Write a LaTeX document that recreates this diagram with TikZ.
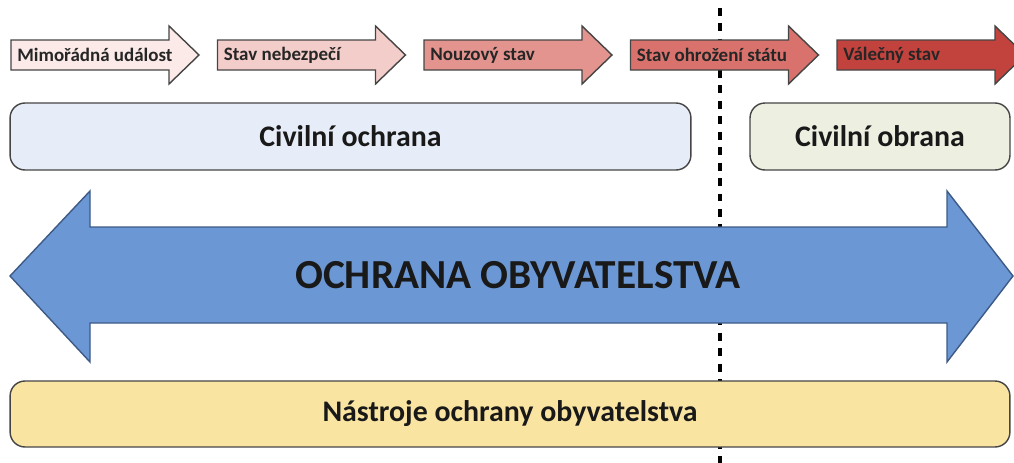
\documentclass[tikz,border=0pt]{standalone}
\usepackage{fontspec}
\setmainfont{Carlito}

\definecolor{stageA}{HTML}{FBEAE8}
\definecolor{stageB}{HTML}{F2CDC9}
\definecolor{stageC}{HTML}{E3948E}
\definecolor{stageD}{HTML}{D9726C}
\definecolor{stageE}{HTML}{C2433D}
\definecolor{outline}{HTML}{454545}
\definecolor{bigblue}{HTML}{6B98D5}
\definecolor{bigedge}{HTML}{3D5A86}
\definecolor{civblue}{HTML}{E7EDF8}
\definecolor{civgreen}{HTML}{EDEFE0}
\definecolor{toolgold}{HTML}{FAE4A2}

\tikzset{
  stagelabel/.style={anchor=west, font=\bfseries\fontsize{10.8}{12}\selectfont, text=black!85, inner sep=0pt},
  roundbox/.style={draw=outline, line width=0.8pt, rounded corners=8.5pt, font=\bfseries\fontsize{17}{20}\selectfont, text=black!90},
  divider/.style={line width=1.9pt, dash pattern=on 4.5pt off 4.3pt}
}

\begin{document}
\begin{tikzpicture}[x=0.02cm, y=-0.02cm]
  \useasboundingbox (0,0) rectangle (1014,463);
  \clip (0,0) rectangle (1014,463);

  % Dividing line (behind everything)
  \draw[divider] (720,8) -- (720,463);

  % Stage arrows along the top
  \foreach \i/\col/\txt in {0/stageA/Mimořádná událost, 1/stageB/Stav nebezpečí,
      2/stageC/Nouzový stav, 3/stageD/Stav ohrožení státu, 4/stageE/Válečný stav} {
    \pgfmathsetmacro{\xa}{11+206.5*\i}
    \draw[fill=\col, draw=outline, line width=0.8pt, line join=miter]
      (\xa,40) -- ++(158,0) -- ++(0,-14) -- ++(30,29) -- ++(-30,29) -- ++(0,-14) -- (\xa,70) -- cycle;
    \node[stagelabel] (stage\i) at (\xa+6,55) {\txt};
  }

  % Civil protection / civil defence
  \node[roundbox, fill=civblue, minimum width=13.62cm, minimum height=1.34cm] (ochrana) at (350.5,136.5) {Civilní ochrana};
  \node[roundbox, fill=civgreen, minimum width=5.2cm, minimum height=1.34cm] (obrana) at (880,136.5) {Civilní obrana};

  % Big double arrow
  \draw[fill=bigblue, draw=bigedge, line width=0.8pt, line join=miter]
    (10,276) -- (90,191) -- (90,227) -- (947,227) -- (947,191) -- (1013,276)
    -- (947,362) -- (947,323) -- (90,323) -- (90,362) -- cycle;
  \node[font=\bfseries\fontsize{23.5}{28}\selectfont, text=black!90] (obyv) at (518,275) {OCHRANA OBYVATELSTVA};

  % Tools
  \node[roundbox, fill=toolgold, minimum width=20cm, minimum height=1.32cm] (nastroje) at (510,414) {Nástroje ochrany obyvatelstva};
\end{tikzpicture}
\end{document}
